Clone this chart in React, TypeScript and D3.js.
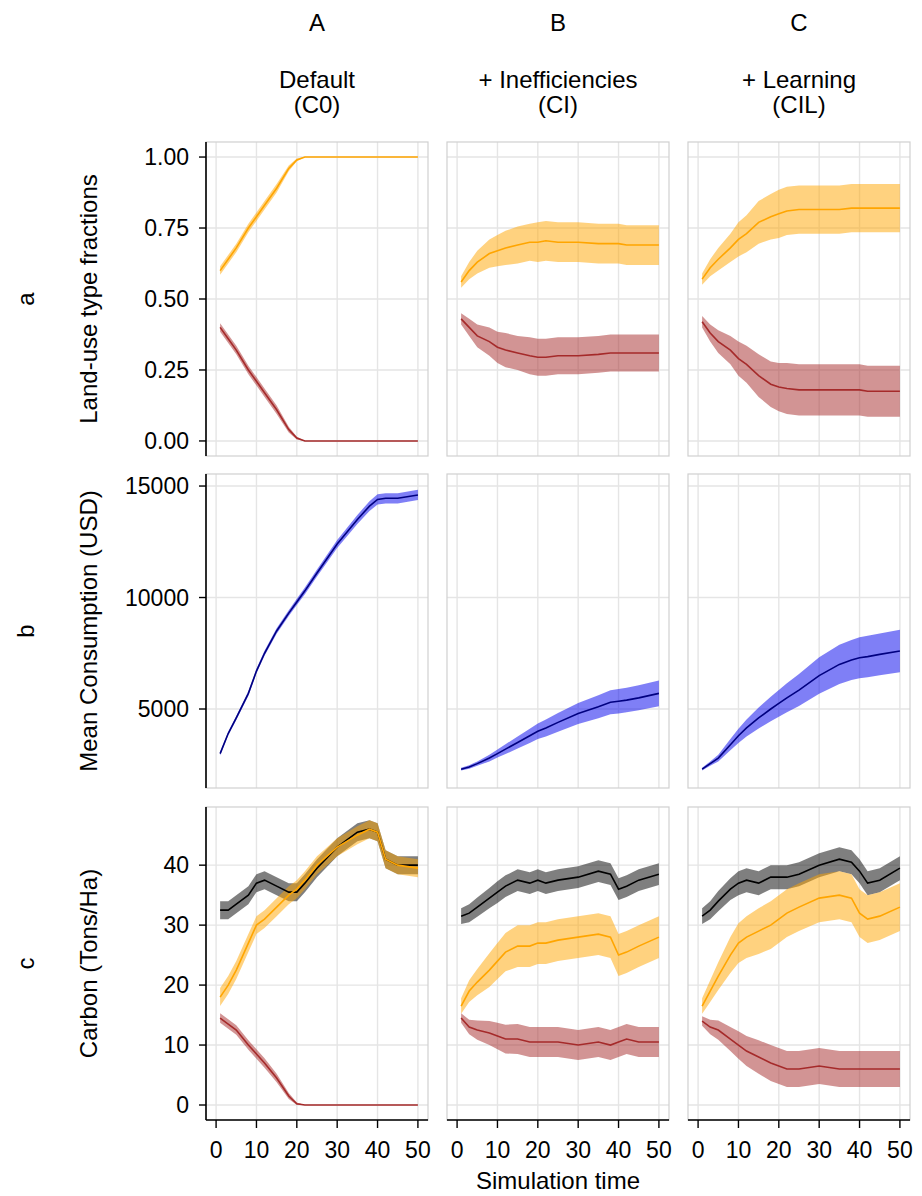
import React from 'react';
import * as d3 from 'd3';

// shared time points (simulation time)
const T = [1, 3, 5, 8, 10, 12, 15, 18, 20, 22, 25, 30, 35, 38, 40, 42, 45, 50];

const columns = ['A', 'B', 'C'];
const colTitles = [['Default', '(C0)'], ['+ Inefficiencies', '(CI)'], ['+ Learning', '(CIL)']];
const rowLabels = ['a', 'b', 'c'];
const rowTitles = ['Land-use type fractions', 'Mean Consumption (USD)', 'Carbon (Tons/Ha)'];
const xTicks = [0, 10, 20, 30, 40, 50];
const yTicksA = [0, 0.25, 0.5, 0.75, 1];
const yTicksB = [5000, 10000, 15000];
const yTicksC = [0, 10, 20, 30, 40];

// row a: land-use fractions
const fracOrangeA = [0.6, 0.64, 0.68, 0.75, 0.79, 0.83, 0.89, 0.96, 0.99, 1, 1, 1, 1, 1, 1, 1, 1, 1];
const fracOrangeAw = [0.015, 0.015, 0.015, 0.015, 0.015, 0.015, 0.015, 0.01, 0.005, 0, 0, 0, 0, 0, 0, 0, 0, 0];
const fracBrownA = [0.4, 0.36, 0.32, 0.25, 0.21, 0.17, 0.11, 0.04, 0.01, 0, 0, 0, 0, 0, 0, 0, 0, 0];
const fracOrangeB = [0.56, 0.6, 0.63, 0.66, 0.67, 0.68, 0.69, 0.7, 0.7, 0.705, 0.7, 0.7, 0.695, 0.695, 0.695, 0.69, 0.69, 0.69];
const fracOrangeBw = [0.02, 0.03, 0.04, 0.05, 0.055, 0.06, 0.065, 0.065, 0.07, 0.07, 0.07, 0.07, 0.07, 0.07, 0.07, 0.07, 0.07, 0.07];
const fracBrownB = [0.43, 0.4, 0.37, 0.35, 0.33, 0.32, 0.31, 0.3, 0.295, 0.295, 0.3, 0.3, 0.305, 0.31, 0.31, 0.31, 0.31, 0.31];
const fracBrownBw = [0.02, 0.03, 0.04, 0.05, 0.055, 0.06, 0.06, 0.065, 0.065, 0.065, 0.065, 0.065, 0.065, 0.065, 0.065, 0.065, 0.065, 0.065];
const fracOrangeC = [0.57, 0.61, 0.64, 0.68, 0.71, 0.73, 0.77, 0.79, 0.8, 0.81, 0.815, 0.815, 0.815, 0.82, 0.82, 0.82, 0.82, 0.82];
const fracOrangeCw = [0.02, 0.03, 0.04, 0.05, 0.06, 0.065, 0.075, 0.08, 0.085, 0.085, 0.085, 0.085, 0.085, 0.085, 0.085, 0.085, 0.085, 0.085];
const fracBrownC = [0.42, 0.38, 0.35, 0.32, 0.29, 0.27, 0.23, 0.2, 0.19, 0.185, 0.18, 0.18, 0.18, 0.18, 0.18, 0.175, 0.175, 0.175];
const fracBrownCw = [0.02, 0.03, 0.04, 0.05, 0.06, 0.065, 0.075, 0.08, 0.085, 0.09, 0.09, 0.09, 0.09, 0.09, 0.09, 0.09, 0.09, 0.09];

// row b: mean consumption
const consA = [3000, 3900, 4600, 5700, 6700, 7500, 8500, 9300, 9800, 10300, 11100, 12400, 13500, 14100, 14400, 14450, 14450, 14600];
const consAw = [80, 80, 90, 100, 100, 110, 120, 130, 140, 150, 160, 180, 200, 220, 230, 230, 230, 230];
const consB = [2300, 2400, 2550, 2800, 3000, 3200, 3500, 3800, 4000, 4150, 4400, 4800, 5100, 5300, 5350, 5400, 5500, 5700];
const consBw = [60, 80, 100, 150, 180, 220, 270, 320, 350, 380, 420, 470, 520, 540, 550, 550, 560, 580];
const consC = [2300, 2550, 2800, 3400, 3800, 4150, 4600, 5000, 5250, 5500, 5850, 6500, 7000, 7200, 7300, 7350, 7450, 7600];
const consCw = [60, 100, 150, 250, 320, 380, 470, 550, 600, 650, 720, 820, 880, 900, 920, 930, 940, 950];

// row c: carbon
const carbBlackA = [32.5, 32.5, 33.5, 35, 37, 37.5, 36.5, 35.5, 35.5, 37, 39.5, 43, 45.5, 46, 45.5, 41, 40, 40];
const carbOrangeA = [18, 20, 22.5, 27, 30, 31, 33, 35, 36, 37.5, 40, 43, 45, 46, 45.5, 41, 40, 39.5];
const carbBrownA = [14.5, 13.5, 12.5, 10, 8.5, 7, 4.5, 1.5, 0.2, 0, 0, 0, 0, 0, 0, 0, 0, 0];
const carbAw = [1.5, 1.5, 1.5, 1.5, 1.5, 1.5, 1.5, 1.5, 1.5, 1.5, 1.5, 1.5, 1.5, 1.5, 1.5, 1.5, 1.5, 1.5];
const carbBrownAw = [0.8, 0.8, 0.8, 0.8, 0.8, 0.8, 0.7, 0.5, 0.2, 0, 0, 0, 0, 0, 0, 0, 0, 0];
const carbBlackB = [31.5, 32, 33, 34.5, 35.5, 36.5, 37.5, 37, 37.5, 37, 37.5, 38, 39, 38.5, 36, 36.5, 37.5, 38.5];
const carbOrangeB = [16.5, 19, 20.5, 22.5, 24, 25.5, 26.5, 26.5, 27, 27, 27.5, 28, 28.5, 28, 25, 25.5, 26.5, 28];
const carbBrownB = [14.5, 13, 12.5, 12, 11.5, 11, 11, 10.5, 10.5, 10.5, 10.5, 10, 10.5, 10, 10.5, 11, 10.5, 10.5];
const carbBlackBw = [1.3, 1.5, 1.6, 1.7, 1.8, 1.8, 1.8, 1.8, 1.8, 1.8, 1.8, 1.8, 1.8, 1.8, 1.8, 1.8, 1.8, 1.8];
const carbOrangeBw = [1.3, 1.8, 2.2, 2.8, 3, 3.2, 3.5, 3.5, 3.5, 3.5, 3.5, 3.5, 3.5, 3.5, 3.5, 3.5, 3.5, 3.5];
const carbBrownBw = [0.8, 1.2, 1.6, 2, 2.2, 2.4, 2.5, 2.5, 2.5, 2.5, 2.5, 2.5, 2.5, 2.5, 2.5, 2.5, 2.5, 2.5];
const carbBlackC = [31.5, 32.5, 34, 36, 37, 37.5, 37, 38, 38, 38, 38.5, 40, 41, 40.5, 39, 37, 37.5, 39.5];
const carbOrangeC = [16.5, 19, 21.5, 25, 27, 28, 29, 30, 31, 32, 33, 34.5, 35, 34.5, 32, 31, 31.5, 33];
const carbBrownC = [14, 13, 12.5, 11, 10, 9, 8, 7, 6.5, 6, 6, 6.5, 6, 6, 6, 6, 6, 6];
const carbBlackCw = [1.3, 1.5, 1.7, 1.8, 2, 2, 2, 2, 2, 2, 2, 2, 2, 2, 2, 2, 2, 2];
const carbOrangeCw = [1.3, 1.8, 2.3, 3, 3.3, 3.5, 3.8, 4, 4, 4, 4, 4, 4, 4, 4, 4, 4, 4];
const carbBrownCw = [0.8, 1.2, 1.6, 2, 2.3, 2.5, 2.8, 3, 3, 3, 3, 3, 3, 3, 3, 3, 3, 3];

const ORANGE = '#FFA500';
const BROWN = '#A52A2A';
const NAVY = '#000080';
const BLACK = '#000000';

type Series = { mean: number[]; w: number[]; line: string; fill: string };

const panels: Series[][][] = [
  [
    [{ mean: fracOrangeA, w: fracOrangeAw, line: ORANGE, fill: ORANGE }, { mean: fracBrownA, w: fracOrangeAw, line: BROWN, fill: BROWN }],
    [{ mean: fracOrangeB, w: fracOrangeBw, line: ORANGE, fill: ORANGE }, { mean: fracBrownB, w: fracBrownBw, line: BROWN, fill: BROWN }],
    [{ mean: fracOrangeC, w: fracOrangeCw, line: ORANGE, fill: ORANGE }, { mean: fracBrownC, w: fracBrownCw, line: BROWN, fill: BROWN }],
  ],
  [
    [{ mean: consA, w: consAw, line: NAVY, fill: '#0000ee' }],
    [{ mean: consB, w: consBw, line: NAVY, fill: '#0000ee' }],
    [{ mean: consC, w: consCw, line: NAVY, fill: '#0000ee' }],
  ],
  [
    [{ mean: carbBlackA, w: carbAw, line: BLACK, fill: BLACK }, { mean: carbOrangeA, w: carbAw, line: ORANGE, fill: ORANGE }, { mean: carbBrownA, w: carbBrownAw, line: BROWN, fill: BROWN }],
    [{ mean: carbBlackB, w: carbBlackBw, line: BLACK, fill: BLACK }, { mean: carbOrangeB, w: carbOrangeBw, line: ORANGE, fill: ORANGE }, { mean: carbBrownB, w: carbBrownBw, line: BROWN, fill: BROWN }],
    [{ mean: carbBlackC, w: carbBlackCw, line: BLACK, fill: BLACK }, { mean: carbOrangeC, w: carbOrangeCw, line: ORANGE, fill: ORANGE }, { mean: carbBrownC, w: carbBrownCw, line: BROWN, fill: BROWN }],
  ],
];

const colX = [206, 447, 688];
const panelW = 222;
const rowY = [142, 474, 807];
const panelH = [314, 314, 313];
const yDomains: [number, number][] = [[-0.053, 1.053], [1457, 15540], [-2.5, 49.7]];
const yTicks = [yTicksA, yTicksB, yTicksC];
const yFmt = [(d: number) => d3.format('.2f')(d), (d: number) => String(d), (d: number) => String(d)];

const FONT = 'Arial, "Liberation Sans", sans-serif';
const TICK_SIZE = 23;
const TITLE_SIZE = 24;

export default function App() {
  const x = d3.scaleLinear().domain([-2.5, 52.5]).range([0, panelW]);
  return (
    <svg width={922} height={1196} style={{ display: 'block', margin: '-8px 0 0 -8px' }} fontFamily={FONT}>
      <rect width={922} height={1196} fill="#fff" />
      {columns.map((c, ci) => {
        const cx = colX[ci] + panelW / 2;
        return (
          <g key={c} fontSize={TITLE_SIZE} textAnchor="middle">
            <text x={cx} y={31}>{c}</text>
            <text x={cx} y={88}>{colTitles[ci][0]}</text>
            <text x={cx} y={113}>{colTitles[ci][1]}</text>
          </g>
        );
      })}
      {rowLabels.map((r, ri) => {
        const cy = rowY[ri] + panelH[ri] / 2;
        return (
          <g key={r} fontSize={TITLE_SIZE} textAnchor="middle">
            <text transform={`translate(34,${cy}) rotate(-90)`}>{r}</text>
            <text transform={`translate(97,${cy}) rotate(-90)`}>{rowTitles[ri]}</text>
          </g>
        );
      })}
      {panels.map((row, ri) => {
        const y = d3.scaleLinear().domain(yDomains[ri]).range([panelH[ri], 0]);
        const area = d3.area<number>().x((_, i) => x(T[i]));
        const line = d3.line<number>().x((_, i) => x(T[i])).y(d => y(d));
        return row.map((series, ci) => (
          <g key={`${ri}-${ci}`} transform={`translate(${colX[ci]},${rowY[ri]})`}>
            {xTicks.map(t => (
              <line key={t} x1={x(t)} x2={x(t)} y1={0} y2={panelH[ri]} stroke="#e5e5e5" strokeWidth={1.4} />
            ))}
            {yTicks[ri].map(t => (
              <line key={t} x1={0} x2={panelW} y1={y(t)} y2={y(t)} stroke="#e5e5e5" strokeWidth={1.4} />
            ))}
            {series.map((s, si) => (
              <path key={`r${si}`}
                d={area.y0((d, i) => y(s.mean[i] - s.w[i])).y1((d, i) => y(s.mean[i] + s.w[i]))(s.mean) || ''}
                fill={s.fill} fillOpacity={0.5} />
            ))}
            {series.map((s, si) => (
              <path key={`l${si}`} d={line(s.mean) || ''} fill="none" stroke={s.line} strokeWidth={1.6} />
            ))}
            <rect x={0} y={0} width={panelW} height={panelH[ri]} fill="none" stroke="#d0d0d0" strokeWidth={1.2} />
            {ci === 0 && (
              <g>
                <line x1={0} x2={0} y1={0} y2={panelH[ri]} stroke="#000" strokeWidth={1.6} />
                {yTicks[ri].map(t => (
                  <g key={t} transform={`translate(0,${y(t)})`}>
                    <line x1={-7} x2={0} stroke="#000" strokeWidth={1.4} />
                    <text x={-17} dy="0.35em" textAnchor="end" fontSize={TICK_SIZE}>{yFmt[ri](t)}</text>
                  </g>
                ))}
              </g>
            )}
            {ri === 2 && (
              <g transform={`translate(0,${panelH[ri]})`}>
                <line x1={0} x2={panelW} stroke="#000" strokeWidth={1.6} />
                {xTicks.map(t => (
                  <g key={t} transform={`translate(${x(t)},0)`}>
                    <line y1={0} y2={8} stroke="#000" strokeWidth={1.4} />
                    <text y={38} textAnchor="middle" fontSize={TICK_SIZE}>{t}</text>
                  </g>
                ))}
              </g>
            )}
          </g>
        ));
      })}
      <text x={558} y={1189} textAnchor="middle" fontSize={TITLE_SIZE}>Simulation time</text>
    </svg>
  );
}
